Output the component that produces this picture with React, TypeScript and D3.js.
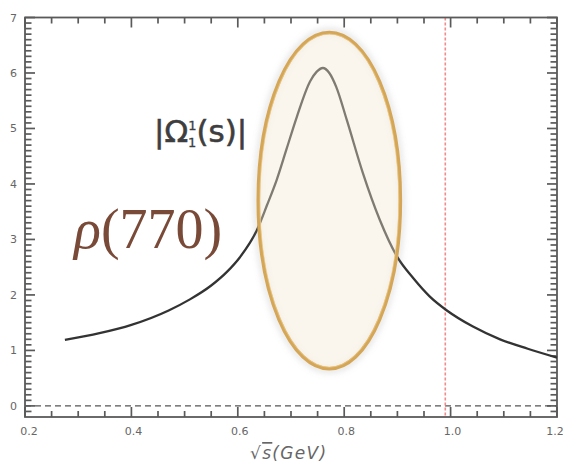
import React from "react";
import * as d3 from "d3";

const sqrtS = [0.275, 0.34, 0.40, 0.47, 0.51, 0.55, 0.58, 0.604, 0.636, 0.655, 0.673, 0.692, 0.711, 0.736, 0.748, 0.76, 0.772, 0.785, 0.805, 0.835, 0.867, 0.90, 0.93, 0.961, 0.993, 1.042, 1.093, 1.145, 1.20];
const omega = [1.19, 1.31, 1.46, 1.72, 1.92, 2.17, 2.42, 2.68, 3.17, 3.62, 4.07, 4.64, 5.21, 5.85, 6.02, 6.09, 6.0, 5.75, 5.15, 4.2, 3.35, 2.68, 2.3, 1.97, 1.72, 1.43, 1.2, 1.03, 0.87];
const xTicks = [0.2, 0.4, 0.6, 0.8, 1.0, 1.2];
const xTickLabels = ["0.2", "0.4", "0.6", "0.8", "1.0", "1.2"];
const yTicks = [0, 1, 2, 3, 4, 5, 6, 7];
const thresholdX = [0.99];
const baselineY = [0];
const ellipseCenter = [0.772, 3.7];
const ellipseHalf = [0.1335, 3.03];

const W = 563, H = 466;
const L = 25, R = 557, T = 17.5, B = 417;

export default function App() {
  const x = d3.scaleLinear().domain([0.2, 1.2]).range([L, R]);
  const y = d3.scaleLinear().domain([-0.2, 7]).range([B, T]);
  const line = d3.line<number>().x((_, i) => x(sqrtS[i])).y((d) => y(d)).curve(d3.curveMonotoneX);
  const minorX = d3.range(0, 21).map((i) => 0.2 + i * 0.05);
  const minorY = d3.range(1, 73).map((i) => -0.2 + i * 0.1);
  const axisColor = "#5a5a5a";
  const cx = x(ellipseCenter[0]), cy = y(ellipseCenter[1]);
  const rx = x(ellipseCenter[0] + ellipseHalf[0]) - cx;
  const ry = cy - y(ellipseCenter[1] + ellipseHalf[1]);
  const xt = minorX.map((v, i) => ({ px: x(v), len: i % 4 === 0 ? 10 : 6 }));
  const yt = minorY.map((v) => ({ py: y(v), len: Math.abs(v - Math.round(v)) < 1e-6 ? 10 : 6.5 }));
  return (
    <svg width={W} height={H} style={{ position: "absolute", left: 0, top: 0, background: "#fff" }} fontFamily="DejaVu Sans, sans-serif">
      <defs>
        <filter id="blur" x="-20%" y="-20%" width="140%" height="140%">
          <feGaussianBlur stdDeviation="3" />
        </filter>
      </defs>
      {baselineY.map((v, i) => (
        <line key={"b" + i} x1={L} x2={R} y1={y(v)} y2={y(v)} stroke="#555" strokeWidth={1.2} strokeDasharray="6,4" />
      ))}
      {thresholdX.map((v, i) => (
        <line key={"r" + i} x1={x(v)} x2={x(v)} y1={T} y2={B} stroke="#f28b8b" strokeWidth={1.6} strokeDasharray="3,2" />
      ))}
      <rect x={L} y={T} width={R - L} height={B - T} fill="none" stroke={axisColor} strokeWidth={1.8} />
      {xt.map((t, i) => (
        <line key={"xb" + i} x1={t.px} x2={t.px} y1={B} y2={B - t.len} stroke={axisColor} strokeWidth={1.7} />
      ))}
      {xt.map((t, i) => (
        <line key={"xtp" + i} x1={t.px} x2={t.px} y1={T} y2={T + t.len} stroke={axisColor} strokeWidth={1.7} />
      ))}
      {yt.map((t, i) => (
        <line key={"yl" + i} x1={L} x2={L + t.len} y1={t.py} y2={t.py} stroke={axisColor} strokeWidth={1.7} />
      ))}
      {yt.map((t, i) => (
        <line key={"yr" + i} x1={R} x2={R - t.len} y1={t.py} y2={t.py} stroke={axisColor} strokeWidth={1.7} />
      ))}
      <path d={line(omega) || ""} fill="none" stroke="#333" strokeWidth={2.3} />
      {/* ellipse */}
      <ellipse cx={cx} cy={cy} rx={rx + 2} ry={ry + 2} fill="none" stroke="#999" strokeOpacity={0.35} strokeWidth={4} filter="url(#blur)" />
      <ellipse cx={cx} cy={cy} rx={rx} ry={ry} fill="#f2e6d2" fillOpacity={0.4} stroke="#d4a656" strokeWidth={3.6} />
      <ellipse cx={cx} cy={cy} rx={rx - 1.5} ry={ry - 1.5} fill="none" stroke="#f0cf8a" strokeWidth={1} strokeOpacity={0.6} />
      {/* tick labels */}
      {xTicks.map((v, i) => (
        <text key={"xl" + i} x={x(v) + (i === 0 ? 4 : i === xTicks.length - 1 ? -2 : 2)} y={435} textAnchor="middle" fontSize={11} fill="#666">
          {xTickLabels[i]}
        </text>
      ))}
      {yTicks.map((v, i) => (
        <text key={"ylb" + i} x={17} y={y(v) + 4} textAnchor="end" fontSize={11} fill="#666">
          {v}
        </text>
      ))}
      {/* x label */}
      <text x={250} y={459} fontSize={17} fill="#666" fontStyle="italic" letterSpacing={1.3}>
        <tspan>√</tspan>
        <tspan textDecoration="overline">s</tspan>
        <tspan>(GeV)</tspan>
      </text>
      {/* annotations */}
      <text x={154} y={142} fontSize={31} fill="#3e3e3e" stroke="#3e3e3e" strokeWidth={0.6}>
        <tspan>|Ω</tspan>
        <tspan fontSize={13} dy={-12} strokeWidth={0.3}>1</tspan>
        <tspan fontSize={13} dx={-8.3} dy={17} strokeWidth={0.3}>1</tspan>
        <tspan dy={-5}>(s)|</tspan>
      </text>
      <text x={74} y={248} fontSize={56} fill="#7a4a38" fontFamily="Liberation Serif, DejaVu Serif, serif">
        <tspan fontStyle="italic">ρ</tspan>
        <tspan>(770)</tspan>
      </text>
    </svg>
  );
}
